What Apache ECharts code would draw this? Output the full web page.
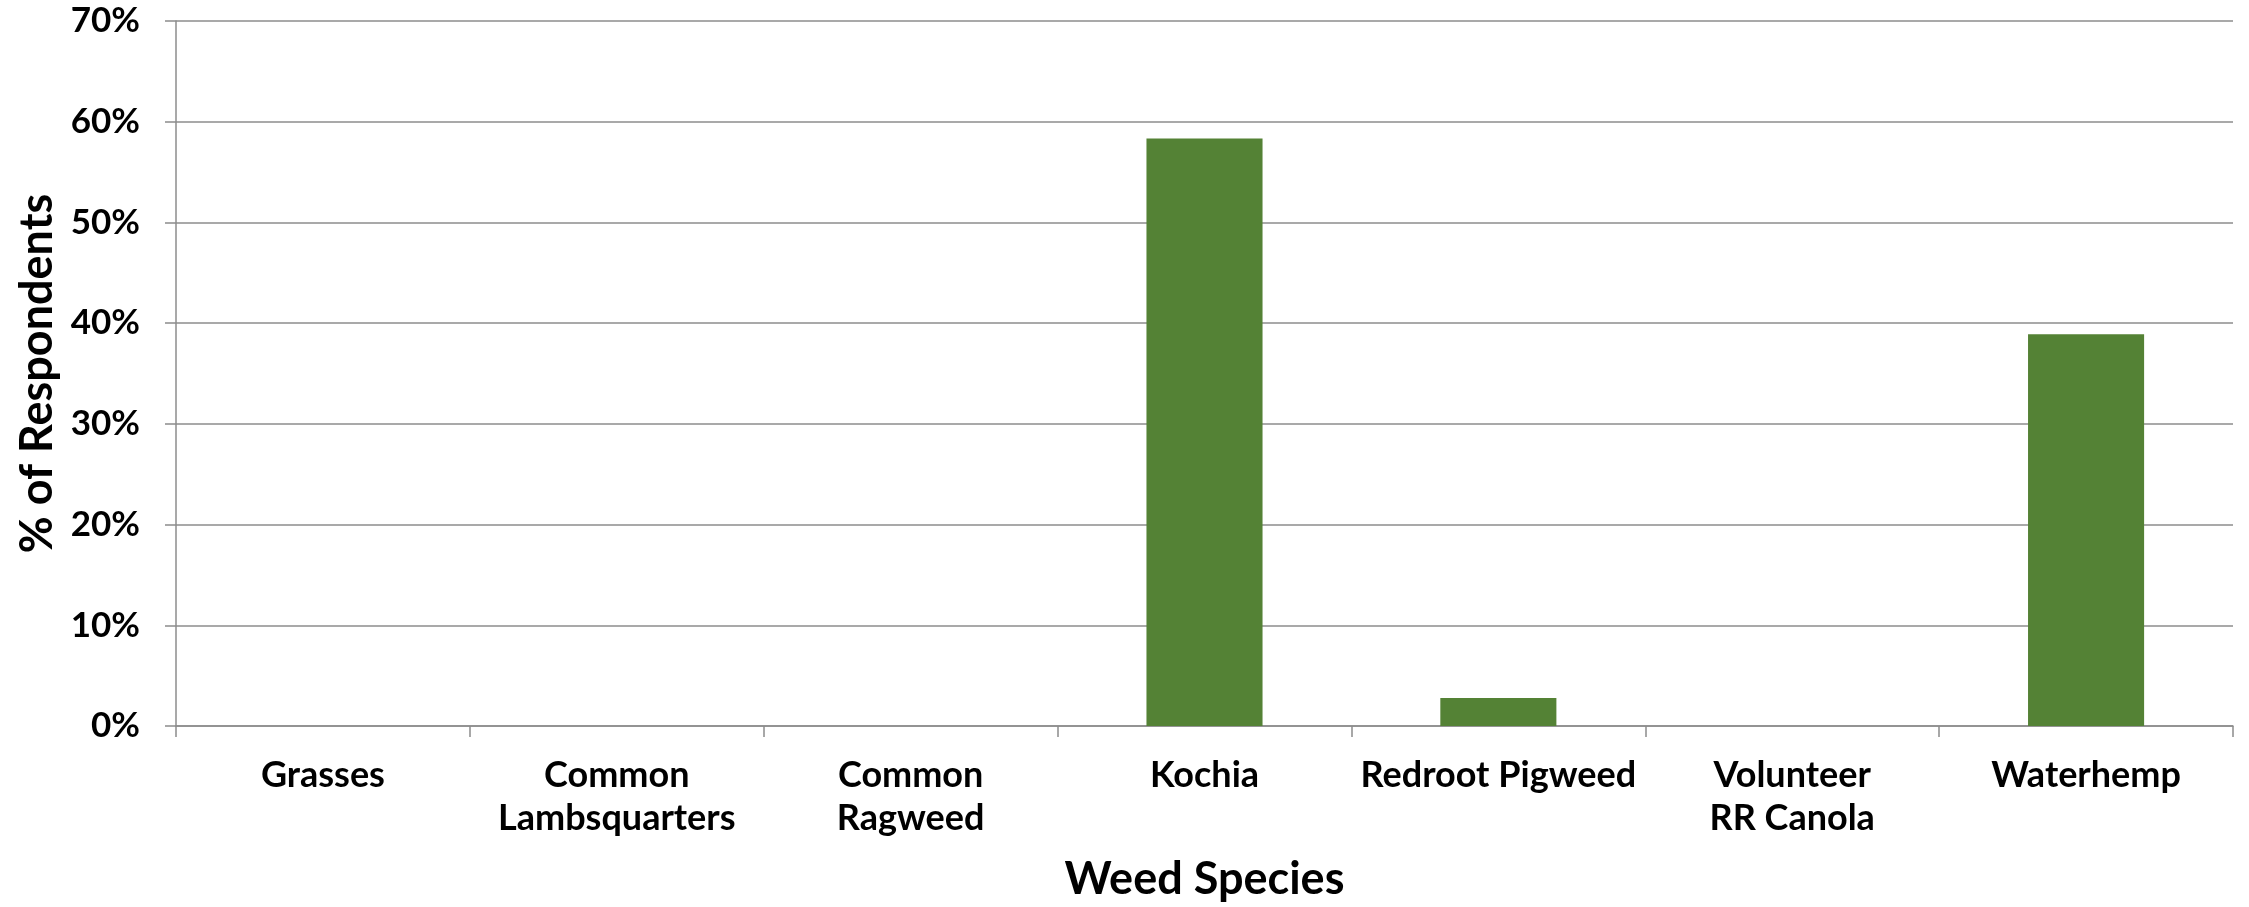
<!DOCTYPE html>
<html>
<head>
<meta charset="utf-8">
<script src="https://cdn.jsdelivr.net/npm/echarts@6/dist/echarts.min.js"></script>
<style>
  html, body { margin: 0; padding: 0; background: #fff; }
  #chart { width: 2249px; height: 907px; }
</style>
</head>
<body>
<div id="chart"></div>
<script>
// Weed species named by respondents (share of respondents, %)
const categories = [
  'Grasses',
  'Common\nLambsquarters',
  'Common\nRagweed',
  'Kochia',
  'Redroot Pigweed',
  'Volunteer\nRR Canola',
  'Waterhemp'
];
const respondents = [0, 0, 0, 58.33, 2.78, 0, 38.89];
const yTicks = { min: 0, max: 70, step: 10 };

const FONT = 'Lato, "Open Sans", sans-serif';
const GRID = '#8c8c8c';

const chart = echarts.init(document.getElementById('chart'), null, { renderer: 'canvas' });
chart.setOption({
  animation: false,
  backgroundColor: '#ffffff',
  grid: { left: 176, right: 16, top: 21, bottom: 181, containLabel: false },
  xAxis: {
    type: 'category',
    data: categories,
    name: 'Weed Species',
    nameLocation: 'middle',
    nameGap: 131,
    nameTextStyle: { fontFamily: FONT, fontWeight: 'bold', fontSize: 45, color: '#000' },
    axisLine: { show: true, lineStyle: { color: GRID, width: 1.5 } },
    axisTick: { show: true, length: 11, lineStyle: { color: GRID, width: 1.5 } },
    axisLabel: {
      interval: 0,
      margin: 28,
      fontFamily: FONT, fontWeight: 'bold', fontSize: 36, color: '#000',
      lineHeight: 43
    },
    splitLine: { show: false }
  },
  yAxis: {
    type: 'value',
    min: yTicks.min,
    max: yTicks.max,
    interval: yTicks.step,
    name: '% of Respondents',
    nameLocation: 'middle',
    nameRotate: 90,
    nameGap: 114,
    nameTextStyle: { fontFamily: FONT, fontWeight: 'bold', fontSize: 45, color: '#000' },
    axisLine: { show: true, lineStyle: { color: GRID, width: 1.5 } },
    axisTick: { show: true, length: 11, lineStyle: { color: GRID, width: 1.5 } },
    axisLabel: {
      margin: 36,
      formatter: '{value}%',
      fontFamily: FONT, fontWeight: 'bold', fontSize: 35, color: '#000'
    },
    splitLine: { show: true, lineStyle: { color: GRID, width: 1.5 } }
  },
  series: [{
    type: 'bar',
    data: respondents,
    barCategoryGap: '60.5%',
    itemStyle: { color: '#548235', borderWidth: 0 }
  }]
});
</script>
</body>
</html>
